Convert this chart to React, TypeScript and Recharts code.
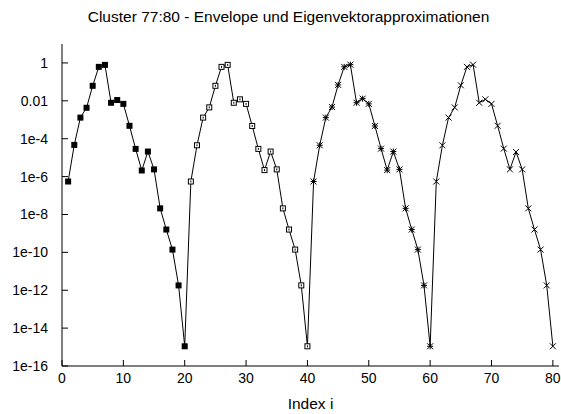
import { ComposedChart, Line, XAxis, YAxis } from 'recharts';

// Envelope und vier Eigenvektorapproximationen, je 20 Indizes
const approx1 = [
  5.5e-7, 4.7e-5, 1.3e-3, 4.3e-3, 6.2e-2, 0.62, 0.79, 7.9e-3, 1.1e-2, 6.9e-3,
  4.8e-4, 2.9e-5, 2.1e-6, 2.1e-5, 2.4e-6, 2.1e-8, 1.6e-9, 1.4e-10, 1.8e-12, 1.1e-15,
];
const approx2 = [
  5.5e-7, 4.5e-5, 1.3e-3, 4.5e-3, 6.2e-2, 0.62, 0.79, 7.9e-3, 1.2e-2, 6.9e-3,
  4.7e-4, 2.9e-5, 2.2e-6, 2.1e-5, 2.4e-6, 2.1e-8, 1.6e-9, 1.4e-10, 1.8e-12, 1.1e-15,
];
const approx3 = [
  5.5e-7, 4.5e-5, 1.3e-3, 4.7e-3, 6.9e-2, 0.62, 0.81, 7.9e-3, 1.3e-2, 6.9e-3,
  4.7e-4, 3.0e-5, 2.2e-6, 2.1e-5, 2.4e-6, 2.1e-8, 1.6e-9, 1.4e-10, 1.8e-12, 1.1e-15,
];
const approx4 = [
  5.5e-7, 4.5e-5, 1.3e-3, 4.5e-3, 6.6e-2, 0.62, 0.81, 7.9e-3, 1.2e-2, 6.9e-3,
  4.8e-4, 3.0e-5, 2.4e-6, 2.0e-5, 2.4e-6, 2.1e-8, 1.6e-9, 1.4e-10, 1.8e-12, 1.1e-15,
];

const xTicks = [0, 10, 20, 30, 40, 50, 60, 70, 80];
const yTicks = [1e-16, 1e-14, 1e-12, 1e-10, 1e-8, 1e-6, 1e-4, 1e-2, 1];

const series = [approx1, approx2, approx3, approx4];

// eine Zeile pro Index i, Envelope läuft durch alle Punkte
const rows = series.flatMap((vals, s) =>
  vals.map((v, k) => ({
    i: s * 20 + k + 1,
    env: v,
    [`a${s + 1}`]: v,
  }))
);

const FONT = '"Liberation Sans", Arial, Helvetica, sans-serif';

function fmtY(v: number) {
  if (v === 1) return '1';
  if (Math.abs(v - 0.01) < 1e-9) return '0.01';
  const e = Math.round(Math.log10(v));
  return `1e${e}`;
}

type DotProps = { cx?: number; cy?: number; index?: number; value?: unknown };

const mk = (kind: string) => (p: DotProps) => {
  const key = `${kind}-${p.index}`;
  if (p.cx == null || p.cy == null || p.value == null) return <g key={key} />;
  const { cx, cy } = p;
  const r = 3;
  if (kind === 'fsq')
    return <rect key={key} x={cx - r} y={cy - r} width={2 * r} height={2 * r} fill="#000" />;
  if (kind === 'osq')
    return (
      <g key={key} stroke="#000" strokeWidth={1} fill="none">
        <rect x={cx - r + 0.5} y={cy - r + 0.5} width={2 * r - 1} height={2 * r - 1} fill="#fff" />
        <line x1={cx} y1={cy - 1} x2={cx} y2={cy + 1} />
      </g>
    );
  if (kind === 'star')
    return (
      <g key={key} stroke="#000" strokeWidth={1}>
        <line x1={cx - r} y1={cy} x2={cx + r} y2={cy} />
        <line x1={cx} y1={cy - r} x2={cx} y2={cy + r} />
        <line x1={cx - r} y1={cy - r} x2={cx + r} y2={cy + r} />
        <line x1={cx - r} y1={cy + r} x2={cx + r} y2={cy - r} />
      </g>
    );
  return (
    <g key={key} stroke="#000" strokeWidth={1}>
      <line x1={cx - r} y1={cy - r} x2={cx + r} y2={cy + r} />
      <line x1={cx - r} y1={cy + r} x2={cx + r} y2={cy - r} />
    </g>
  );
};

const markers = ['fsq', 'osq', 'star', 'cross'];

export default function App() {
  const tickStyle = { fill: '#000', fontSize: 14, fontFamily: FONT };
  return (
    <div style={{ position: 'absolute', left: 0, top: 0, width: 561, height: 414, background: '#fff' }}>
      <div
        style={{
          position: 'absolute',
          left: 0,
          width: 577,
          top: 8,
          textAlign: 'center',
          fontFamily: FONT,
          fontSize: 15.5,
          color: '#000',
          whiteSpace: 'nowrap',
        }}
      >
        Cluster 77:80 - Envelope und Eigenvektorapproximationen
      </div>
      <ComposedChart width={561} height={414} data={rows} margin={{ top: 44, right: 2, bottom: 0, left: 0 }}>
        <XAxis
          xAxisId="b"
          type="number"
          dataKey="i"
          domain={[0, 81]}
          ticks={xTicks}
          allowDataOverflow
          height={48}
          tickSize={-6}
          tickMargin={13}
          tick={tickStyle}
          axisLine={{ stroke: '#000' }}
          tickLine={{ stroke: '#000' }}
          label={{ value: 'Index i', position: 'insideBottom', offset: 5, fill: '#000', fontSize: 15.5, fontFamily: FONT }}
        />
        <XAxis
          xAxisId="t"
          orientation="top"
          type="number"
          dataKey="i"
          domain={[0, 81]}
          ticks={xTicks}
          allowDataOverflow
          height={0}
          tickSize={-6}
          tick={false}
          axisLine={{ stroke: '#000' }}
          tickLine={{ stroke: '#000' }}
        />
        <YAxis
          yAxisId="l"
          scale="log"
          domain={[1e-16, 10]}
          ticks={yTicks}
          allowDataOverflow
          width={62}
          tickSize={-6}
          tickMargin={20}
          tickFormatter={fmtY}
          tick={tickStyle}
          axisLine={{ stroke: '#000' }}
          tickLine={{ stroke: '#000' }}
        />
        <YAxis
          yAxisId="r"
          orientation="right"
          scale="log"
          domain={[1e-16, 10]}
          ticks={yTicks}
          allowDataOverflow
          width={0}
          tickSize={-6}
          tick={false}
          axisLine={{ stroke: '#000' }}
          tickLine={{ stroke: '#000' }}
        />
        <Line
          xAxisId="b"
          yAxisId="l"
          dataKey="env"
          type="linear"
          stroke="#000"
          strokeWidth={1}
          dot={false}
          activeDot={false}
          isAnimationActive={false}
        />
        {markers.map((m, s) => (
          <Line
            key={m}
            xAxisId="b"
            yAxisId="l"
            dataKey={`a${s + 1}`}
            type="linear"
            stroke="none"
            dot={mk(m)}
            activeDot={false}
            isAnimationActive={false}
          />
        ))}
      </ComposedChart>
    </div>
  );
}
